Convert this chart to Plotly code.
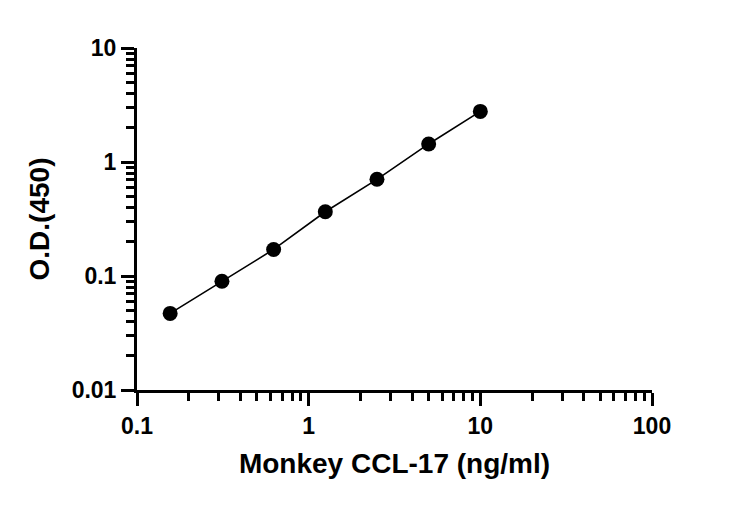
import plotly.graph_objects as go

# standard curve
conc = [0.156, 0.3125, 0.625, 1.25, 2.5, 5, 10]
od = [0.047, 0.090, 0.171, 0.366, 0.705, 1.44, 2.78]

x_ticks = [0.1, 1, 10, 100]
x_labels = ['0.1', '1', '10', '100']
y_ticks = [0.01, 0.1, 1, 10]
y_labels = ['0.01', '0.1', '1', '10']

fig = go.Figure(data=[
    go.Scatter(x=conc, y=od, mode='lines+markers',
               line=dict(color='black', width=1.6),
               marker=dict(color='black', size=15))
])

axis_style = dict(
    type='log',
    showgrid=False,
    zeroline=False,
    showline=True,
    linecolor='black',
    linewidth=3,
    ticks='outside',
    ticklen=13,
    tickwidth=3,
    tickcolor='black',
    tickfont=dict(family='Liberation Sans', size=23, color='black', weight='bold'),
    minor=dict(ticks='outside', ticklen=8, tickwidth=2.5, tickcolor='black', dtick='D1'),
)

# page body adds 8px, so margins are shifted to keep the plot box in place
fig.update_layout(
    width=732, height=507,
    margin=dict(l=129, r=88, t=40, b=125),
    paper_bgcolor='white',
    plot_bgcolor='white',
    showlegend=False,
    font=dict(family='Liberation Sans', color='black'),
    xaxis=dict(axis_style, range=[-1, 2], tickvals=x_ticks, ticktext=x_labels,
               title=dict(text='<b>Monkey CCL-17 (ng/ml)</b>', standoff=16,
                          font=dict(size=28))),
    yaxis=dict(axis_style, range=[-2, 1], tickvals=y_ticks, ticktext=y_labels,
               title=dict(text='<b>O.D.(450)</b>', standoff=14,
                          font=dict(size=28))),
)

fig.write_html("out.html")
